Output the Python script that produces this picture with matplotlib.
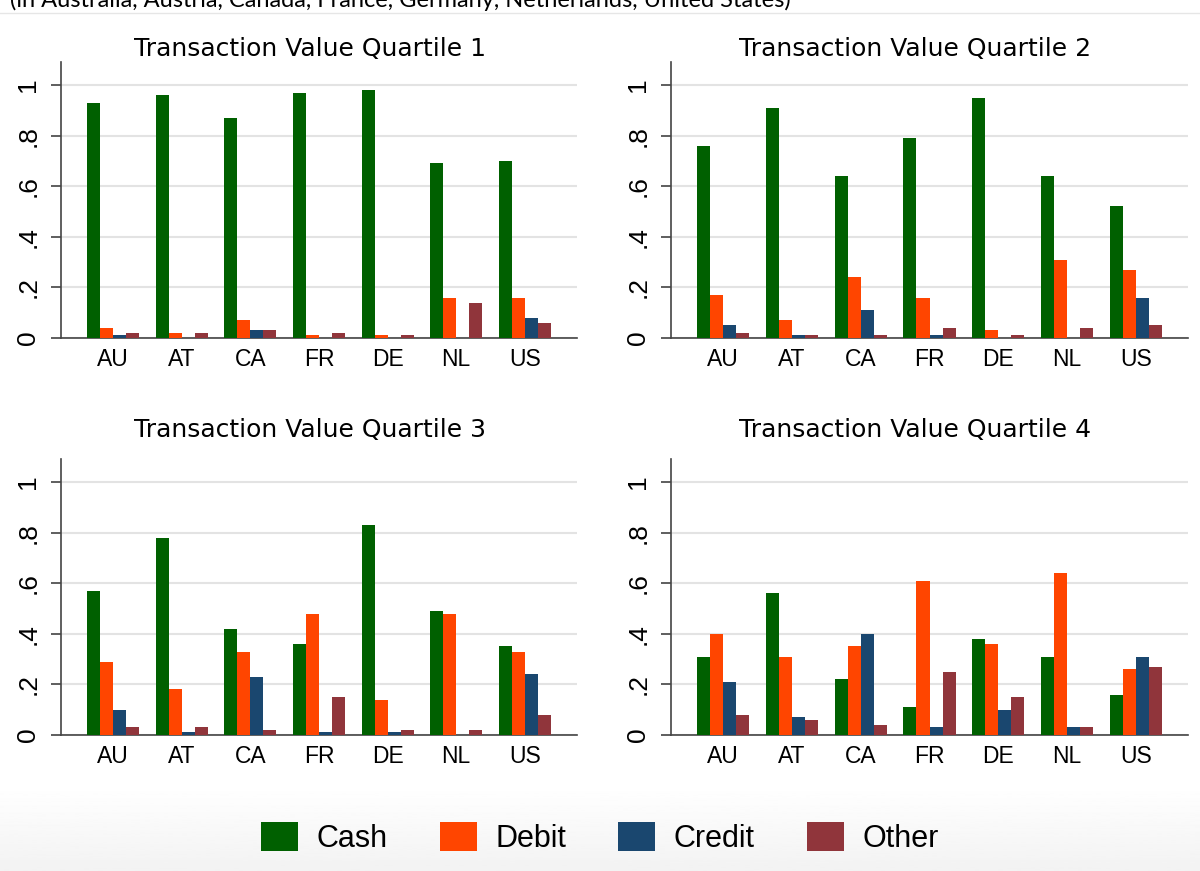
import numpy as np
import matplotlib
matplotlib.use("Agg")
import matplotlib.pyplot as plt
from matplotlib.patches import Patch

countries = ["AU", "AT", "CA", "FR", "DE", "NL", "US"]
methods = ["Cash", "Debit", "Credit", "Other"]
colors = ["#006000", "#FF4500", "#1A476F", "#90353B"]

# share of transactions by payment method, one block per value quartile
q1_cash = [0.93, 0.96, 0.87, 0.97, 0.98, 0.69, 0.70]
q1_debit = [0.04, 0.02, 0.07, 0.01, 0.01, 0.16, 0.16]
q1_credit = [0.01, 0.00, 0.03, 0.00, 0.00, 0.00, 0.08]
q1_other = [0.02, 0.02, 0.03, 0.02, 0.01, 0.14, 0.06]

q2_cash = [0.76, 0.91, 0.64, 0.79, 0.95, 0.64, 0.52]
q2_debit = [0.17, 0.07, 0.24, 0.16, 0.03, 0.31, 0.27]
q2_credit = [0.05, 0.01, 0.11, 0.01, 0.00, 0.00, 0.16]
q2_other = [0.02, 0.01, 0.01, 0.04, 0.01, 0.04, 0.05]

q3_cash = [0.57, 0.78, 0.42, 0.36, 0.83, 0.49, 0.35]
q3_debit = [0.29, 0.18, 0.33, 0.48, 0.14, 0.48, 0.33]
q3_credit = [0.10, 0.01, 0.23, 0.01, 0.01, 0.00, 0.24]
q3_other = [0.03, 0.03, 0.02, 0.15, 0.02, 0.02, 0.08]

q4_cash = [0.31, 0.56, 0.22, 0.11, 0.38, 0.31, 0.16]
q4_debit = [0.40, 0.31, 0.35, 0.61, 0.36, 0.64, 0.26]
q4_credit = [0.21, 0.07, 0.40, 0.03, 0.10, 0.03, 0.31]
q4_other = [0.08, 0.06, 0.04, 0.25, 0.15, 0.03, 0.27]

quartiles = [
    [q1_cash, q1_debit, q1_credit, q1_other],
    [q2_cash, q2_debit, q2_credit, q2_other],
    [q3_cash, q3_debit, q3_credit, q3_other],
    [q4_cash, q4_debit, q4_credit, q4_other],
]
titles = ["Transaction Value Quartile %d" % (i + 1) for i in range(4)]
yticks = [0, 0.2, 0.4, 0.6, 0.8, 1.0]
ytick_labels = ["0", ".2", ".4", ".6", ".8", "1"]

W, H = 1200, 871
fig = plt.figure(figsize=(12, 8.71), dpi=100)

# light grey fade at the bottom (screenshot look)
bg = fig.add_axes([0, 0, 1, 85 / H], zorder=-10)
grad = np.linspace(1.0, 0.95, 50).reshape(-1, 1)
bg.imshow(grad, aspect="auto", cmap="gray", vmin=0, vmax=1, extent=[0, 1, 0, 1], origin="upper")
bg.axis("off")

# cut-off subtitle line at the very top
fig.text(10 / W, 1 - 7 / H, "(in Australia, Austria, Canada, France, Germany, Netherlands, United States)",
         family="Lato", fontsize=17, va="baseline", ha="left")
fig.add_artist(plt.Line2D([0, 1], [1 - 13 / H, 1 - 13 / H], color="#e6e6e6", lw=1))

# axes boxes in pixels: left, right, baseline
boxes = [(61, 577, 338), (671, 1188, 338), (61, 577, 735), (671, 1188, 735)]
title_pos = [(310, 56), (915, 56), (310, 437), (915, 437)]
ymax = 1.09
px_per_unit = 253

x = np.arange(len(countries))
bw = 0.19

for k, (vals, (l, r, base)) in enumerate(zip(quartiles, boxes)):
    top = base - ymax * px_per_unit
    ax = fig.add_axes([l / W, 1 - base / H, (r - l) / W, (base - top) / H])
    for j, series in enumerate(vals):
        ax.bar(x + (j - 1.5) * bw, series, width=bw, color=colors[j], zorder=3)
    ax.set_xlim(-0.76, 6.76)
    ax.set_ylim(0, ymax)
    ax.set_yticks(yticks)
    ax.set_yticklabels(ytick_labels, rotation=90, va="center", family="Liberation Sans", fontsize=19)
    ax.set_xticks(x)
    ax.set_xticklabels(countries, family="Liberation Sans", fontsize=16.5)
    ax.tick_params(axis="x", length=0, pad=7)
    ax.tick_params(axis="y", length=7, width=1.1, color="#333333", pad=8)
    ax.grid(axis="y", color="#e3e3e3", lw=1.5, zorder=0)
    ax.set_axisbelow(True)
    for s in ["top", "right"]:
        ax.spines[s].set_visible(False)
    for s in ["left", "bottom"]:
        ax.spines[s].set_color("#444444")
        ax.spines[s].set_linewidth(1.2)
    ax.patch.set_alpha(0)
    tx, ty = title_pos[k]
    fig.text(tx / W, 1 - ty / H, titles[k], ha="center", va="baseline",
             family="DejaVu Sans", fontsize=18)

handles = [Patch(facecolor=c, label=m) for c, m in zip(colors, methods)]
fig.legend(handles=handles, loc="center", bbox_to_anchor=(600 / W, 1 - 838 / H), ncol=4,
           frameon=False, prop={"family": "Liberation Sans", "size": 22},
           handlelength=1.2, handleheight=1.05, handletextpad=0.62, columnspacing=1.7)

fig.savefig("out.png", dpi=100)
